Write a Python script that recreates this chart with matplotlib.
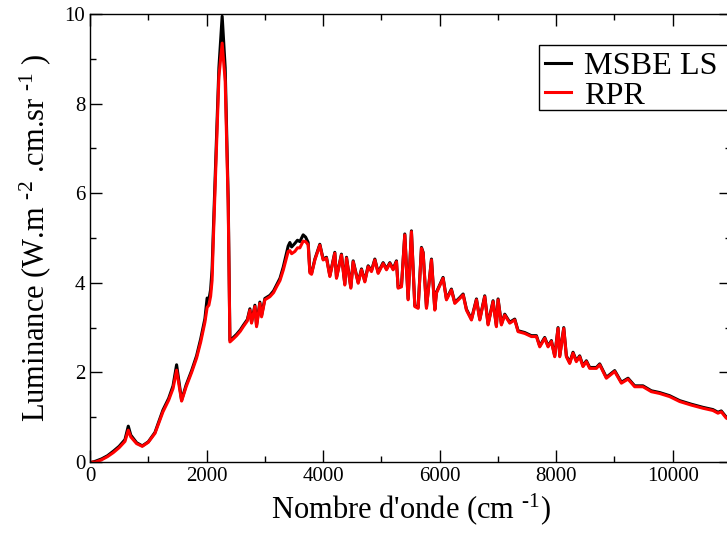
import matplotlib
matplotlib.use("Agg")
import matplotlib.pyplot as plt
from matplotlib.ticker import MultipleLocator
from matplotlib.patches import Rectangle

plt.rcParams["font.family"] = ["Liberation Serif", "DejaVu Serif"]
plt.rcParams["mathtext.fontset"] = "custom"
plt.rcParams["mathtext.rm"] = "Liberation Serif"
plt.rcParams["mathtext.it"] = "Liberation Serif:italic"

# Wavenumber (cm-1) and luminance for the two models
wavenumber = [50, 100, 200, 300, 400, 500, 600, 657, 700, 800, 897, 1000, 1115, 1252, 1350, 1425,
              1486, 1572, 1650, 1744, 1829, 1900, 1972, 2010, 2040, 2070, 2095, 2115, 2172, 2212,
              2268, 2320, 2372, 2401, 2460, 2515, 2580, 2630, 2700, 2744, 2772, 2830, 2858, 2915,
              2944, 3001, 3087, 3150, 3201, 3260, 3316, 3401, 3430, 3460, 3516, 3560, 3601, 3658,
              3700, 3744, 3773, 3802, 3859, 3944, 4001, 4058, 4116, 4201, 4230, 4315, 4373, 4402,
              4476, 4516, 4602, 4659, 4716, 4773, 4830, 4888, 4945, 5030, 5088, 5145, 5202, 5259,
              5288, 5345, 5402, 5459, 5516, 5574, 5631, 5688, 5717, 5774, 5860, 5917, 5945, 6059,
              6117, 6202, 6260, 6345, 6403, 6460, 6546, 6632, 6689, 6774, 6831, 6917, 6974, 7003,
              7060, 7117, 7203, 7289, 7346, 7460, 7575, 7661, 7718, 7803, 7861, 7918, 7975, 8032,
              8061, 8130, 8175, 8232, 8289, 8346, 8403, 8460, 8518, 8575, 8690, 8747, 8861, 9004,
              9119, 9233, 9347, 9490, 9633, 9776, 9947, 10119, 10319, 10519, 10690, 10776, 10833,
              10919, 11000]

msbe_ls = [0.00, 0.02, 0.07, 0.14, 0.24, 0.35, 0.50, 0.80, 0.60, 0.43, 0.36, 0.45, 0.66, 1.16, 1.42, 1.70,
           2.17, 1.38, 1.72, 2.04, 2.37, 2.75, 3.20, 3.66, 3.62, 3.85, 4.30, 5.10, 7.30, 8.80,
           9.95, 8.80, 5.85, 2.72, 2.78, 2.85, 2.95, 3.05, 3.18, 3.42, 3.12, 3.50, 3.05, 3.57,
           3.27, 3.65, 3.72, 3.82, 3.95, 4.10, 4.35, 4.82, 4.90, 4.80, 4.88, 4.95, 4.92, 5.07,
           5.02, 4.90, 4.25, 4.21, 4.53, 4.86, 4.53, 4.57, 4.16, 4.68, 4.12, 4.64, 3.97, 4.57,
           3.90, 4.49, 4.01, 4.31, 4.04, 4.38, 4.27, 4.53, 4.23, 4.45, 4.31, 4.45, 4.31, 4.49,
           3.90, 3.93, 5.09, 3.64, 5.16, 3.49, 3.45, 4.79, 4.68, 3.45, 4.53, 3.41, 3.79, 4.12,
           3.64, 3.86, 3.56, 3.67, 3.75, 3.41, 3.19, 3.64, 3.19, 3.71, 3.08, 3.60, 3.04, 3.64,
           3.08, 3.30, 3.12, 3.19, 2.93, 2.89, 2.82, 2.82, 2.59, 2.78, 2.59, 2.71, 2.37, 3.00,
           2.37, 3.00, 2.37, 2.22, 2.45, 2.26, 2.37, 2.15, 2.26, 2.11, 2.11, 2.19, 1.89, 2.04,
           1.78, 1.87, 1.70, 1.70, 1.59, 1.55, 1.48, 1.37, 1.29, 1.22, 1.17, 1.11, 1.14,
           1.00, 0.95]

rpr = [0.00, 0.00, 0.05, 0.12, 0.21, 0.32, 0.46, 0.71, 0.56, 0.41, 0.35, 0.44, 0.64, 1.12, 1.38, 1.64,
       2.05, 1.36, 1.68, 2.00, 2.32, 2.68, 3.12, 3.45, 3.50, 3.70, 4.05, 4.90, 7.10, 8.60,
       9.35, 8.50, 5.70, 2.68, 2.75, 2.82, 2.92, 3.02, 3.15, 3.39, 3.10, 3.47, 3.02, 3.54,
       3.24, 3.62, 3.69, 3.78, 3.91, 4.05, 4.28, 4.70, 4.72, 4.65, 4.70, 4.78, 4.78, 4.93,
       4.92, 4.85, 4.22, 4.19, 4.51, 4.84, 4.51, 4.55, 4.14, 4.66, 4.10, 4.62, 3.95, 4.55,
       3.88, 4.47, 3.99, 4.29, 4.02, 4.36, 4.25, 4.51, 4.21, 4.43, 4.29, 4.43, 4.29, 4.47,
       3.88, 3.91, 5.07, 3.62, 5.14, 3.47, 3.43, 4.77, 4.66, 3.43, 4.51, 3.39, 3.77, 4.10,
       3.62, 3.84, 3.54, 3.65, 3.73, 3.39, 3.17, 3.62, 3.17, 3.69, 3.06, 3.58, 3.02, 3.62,
       3.06, 3.28, 3.10, 3.17, 2.91, 2.87, 2.80, 2.80, 2.57, 2.76, 2.57, 2.69, 2.35, 2.98,
       2.35, 2.98, 2.35, 2.20, 2.43, 2.24, 2.35, 2.13, 2.24, 2.09, 2.09, 2.17, 1.87, 2.02,
       1.76, 1.85, 1.68, 1.68, 1.57, 1.53, 1.46, 1.35, 1.27, 1.20, 1.15, 1.09, 1.12,
       0.98, 0.93]

fig = plt.figure(figsize=(7.27, 5.37), dpi=100)
# axes run past the right edge of the picture, like the cropped original
ax = fig.add_axes([90 / 727, 75 / 537, 641 / 727, 448 / 537])

ax.plot(wavenumber, msbe_ls, color="black", lw=2.2, label="MSBE LS")
ax.plot(wavenumber, rpr, color="red", lw=2.2, label="RPR")

ax.set_xlim(0, 11000)
ax.set_ylim(0, 10)
ax.xaxis.set_major_locator(MultipleLocator(2000))
ax.xaxis.set_minor_locator(MultipleLocator(1000))
ax.yaxis.set_major_locator(MultipleLocator(2))
ax.yaxis.set_minor_locator(MultipleLocator(1))
ax.tick_params(which="both", direction="in", top=True, right=True, labelsize=15, width=1)
ax.tick_params(which="major", length=8.5)
ax.tick_params(which="minor", length=4.5)
for s in ax.spines.values():
    s.set_linewidth(1.0)

ax.set_xlabel(r"Nombre d'onde (cm $^{\text{-1}}$)", fontsize=22, labelpad=4)
ax.set_ylabel(r"Luminance (W.m $^{\text{-2}}$ .cm.sr $^{\text{-1}}$ )", fontsize=22, labelpad=8)

leg = ax.legend(loc="upper left", bbox_to_anchor=(539 / 727, 1 - 45 / 537),
                bbox_transform=fig.transFigure, fontsize=23.2, frameon=False,
                handlelength=0.8, handletextpad=0.4, labelspacing=0.0, borderpad=0.2,
                borderaxespad=0)
leg.set_zorder(10)

# legend box (white, hides the right-hand ticks), running off the edge like the original
box = Rectangle((539 / 727, 1 - 110 / 537), 200 / 727, 65 / 537,
                transform=fig.transFigure, facecolor="white", edgecolor="black",
                linewidth=1.0, zorder=9, clip_on=False)
ax.add_artist(box)

fig.savefig("out.png", dpi=100)
